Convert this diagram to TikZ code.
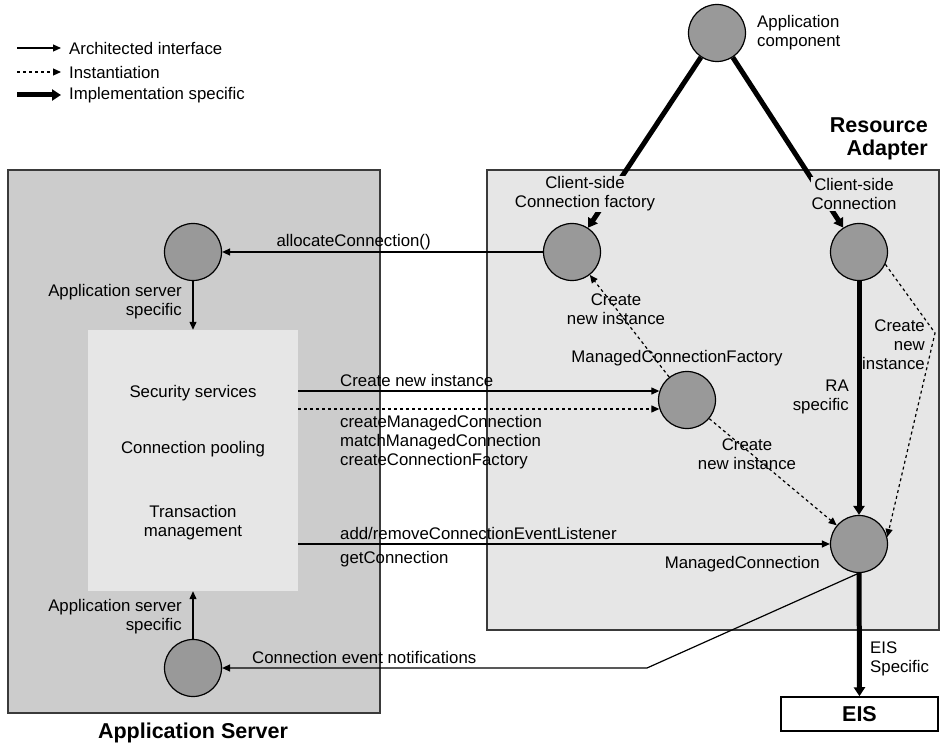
\documentclass[tikz,border=0pt]{standalone}
\usepackage{fontspec}
\setmainfont{Liberation Sans}
\usetikzlibrary{arrows.meta}
\definecolor{asgray}{HTML}{CCCCCC}
\definecolor{ragray}{HTML}{E6E6E6}
\definecolor{compgray}{HTML}{999999}
\definecolor{edgegray}{HTML}{3A3A3A}

\begin{document}
\begin{tikzpicture}[x=1pt,y=-1pt,
	box/.style={draw=edgegray, line width=1.5pt, inner sep=0pt},
	comp/.style={circle, draw=black, fill=compgray, line width=1.2pt, minimum size=57pt, inner sep=0pt},
	txt/.style={font=\fontsize{16.8}{19}\selectfont, inner sep=1pt},
	bigtxt/.style={font=\fontsize{21.5}{22.5}\selectfont\bfseries, inner sep=1pt},
	arch/.style={line width=1.2pt, -{Triangle[length=8pt,width=7pt]}},
	inst/.style={line width=1.2pt, dash pattern=on 3pt off 3pt, -{Triangle[length=8pt,width=7pt]}},
	impl/.style={line width=5pt, -{Triangle[length=9pt,width=11pt]}}]
	\useasboundingbox (0,0) rectangle (940,743);
	% containers
	\node[box, fill=asgray, minimum width=372pt, minimum height=543pt] (asbox) at (194,441.5) {};
	\node[box, fill=ragray, minimum width=452pt, minimum height=460pt] (rabox) at (713,400) {};
	\node[fill=ragray, minimum width=210pt, minimum height=261pt, inner sep=0pt] (svc) at (193,460.5) {};
	\node[box, draw=black, fill=white, minimum width=157pt, minimum height=34pt, bigtxt] (eis) at (859.5,714) {EIS};
	% components
	\node[comp] (appc) at (717,33) {};
	\node[comp] (ast) at (193,252) {};
	\node[comp] (asb) at (193,668) {};
	\node[comp] (cf) at (572,252) {};
	\node[comp] (cc) at (859,252) {};
	\node[comp] (mcf) at (687,400) {};
	\node[comp] (mc) at (859,544) {};
	% legend
	\draw[arch] (17,48) -- ++(44,0);
	\node[txt, anchor=west] (lgarch) at (68,48) {Architected interface};
	\draw[inst] (17,72) -- ++(44,0);
	\node[txt, anchor=west] (lginst) at (68,72) {Instantiation};
	\draw[impl] (17,95) -- ++(44,0);
	\node[txt, anchor=west] (lgimpl) at (68,95) {Implementation specific};
	% application component
	\node[txt, align=left, anchor=west] (appclbl) at (756,33) {Application\\component};
	\draw[impl] (appc) -- (cf);
	\draw[impl] (appc) -- (cc);
	\node[txt, fill=ragray, align=center] (cflbl) at (585,194) {Client-side\\Connection factory};
	\node[txt, fill=ragray, align=center] (cclbl) at (854,194) {Client-side\\Connection};
	% application server side
	\draw[arch] (cf) -- (ast) node[txt, pos=0.59, above] (alloc) {allocateConnection()};
	\draw[arch] (ast) -- (ast |- svc.north);
	\node[txt, align=right, anchor=east] (asspec1) at (183,302) {Application server\\specific};
	\draw[arch] (asb) -- (asb |- svc.south);
	\node[txt, align=right, anchor=east] (asspec2) at (183,617) {Application server\\specific};
	\node[txt] (sec) at (193,393) {Security services};
	\node[txt] (pool) at (193,449) {Connection pooling};
	\node[txt, align=center] (tx) at (193,523) {Transaction\\management};
	% managed connection factory
	\draw[arch] (svc.east |- mcf.162) -- (mcf.162);
	\draw[inst] (svc.east |- mcf.198) -- (mcf.198);
	\node[txt, anchor=west] (newinst) at (339,380) {Create new instance};
	\node[txt, align=left, anchor=west] (mcfops) at (339,442) {createManagedConnection\\matchManagedConnection\\createConnectionFactory};
	\node[txt] (mcflbl) at (677,358) {ManagedConnectionFactory};
	\draw[inst] (mcf) -- (cf);
	\node[txt, align=center] (mkcf) at (616,309) {Create\\new instance};
	\draw[inst] (mcf) -- (mc);
	\node[txt, align=center] (mkmc) at (747,454) {Create\\new instance};
	% managed connection
	\coordinate (bend) at (935,333);
	\draw[inst] (cc.-25) -- (bend) -- (mc.14);
	\node[txt, align=right, anchor=east] (mkcc) at (926,345) {Create\\new\\instance};
	\draw[impl] (cc) -- (mc);
	\node[txt, align=right, anchor=east] (raspec) at (850,397) {RA\\specific};
	\draw[arch] (svc.east |- mc.west) -- (mc.west);
	\node[txt, anchor=west] (listen) at (339,533) {add/removeConnectionEventListener};
	\node[txt, anchor=west] (getconn) at (339,559) {getConnection};
	\node[txt, anchor=east] (mclbl) at (821,564) {ManagedConnection};
	\coordinate (evbend) at (647,668);
	\draw[arch] (mc.south) -- (evbend) -- (asb);
	\node[txt, anchor=west] (events) at (251,657) {Connection event notifications};
	% EIS
	\draw[impl] (mc) -- (eis);
	\node[txt, align=left, anchor=west] (eisspec) at (869,659) {EIS\\Specific};
	% titles
	\node[bigtxt, align=right, anchor=east] (ratitle) at (929,139) {Resource\\Adapter};
	\node[bigtxt] (astitle) at (193,733) {Application Server};
\end{tikzpicture}
\end{document}
